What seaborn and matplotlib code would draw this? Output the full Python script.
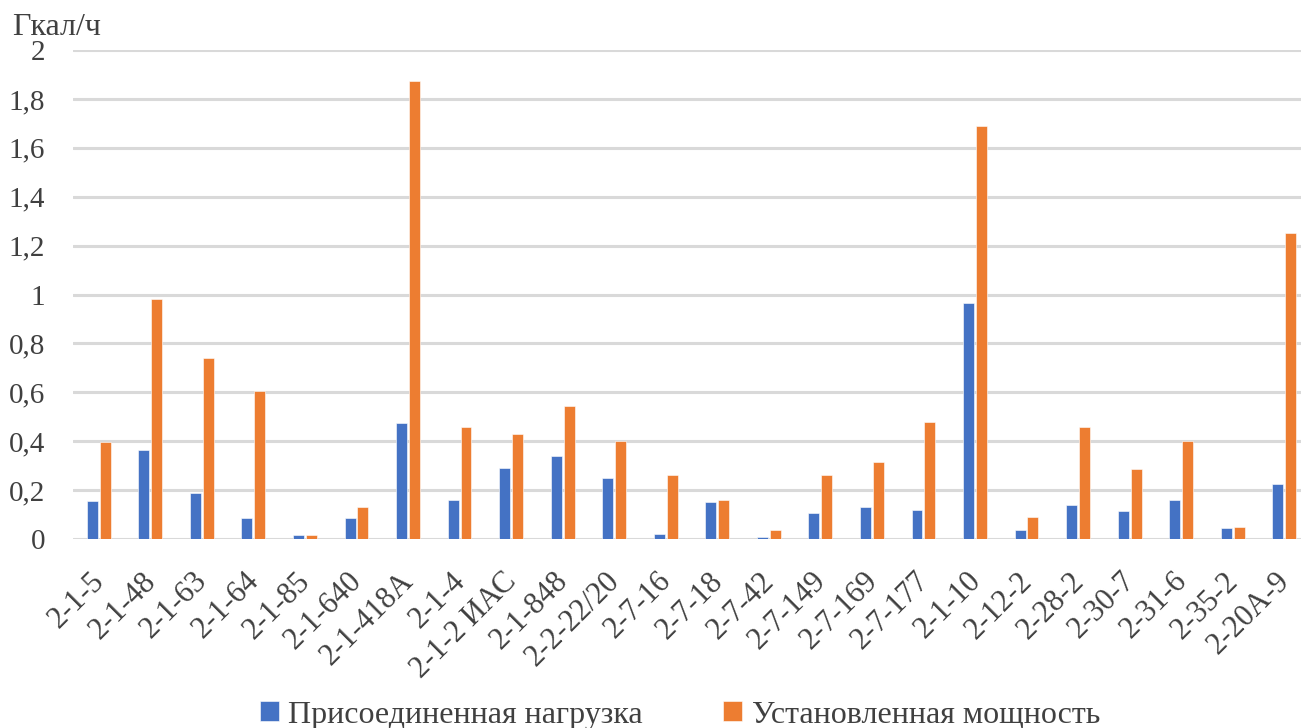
import matplotlib
matplotlib.use("Agg")
import matplotlib.pyplot as plt
from matplotlib.transforms import ScaledTranslation
import seaborn as sns
import pandas as pd

categories = ["2-1-5", "2-1-48", "2-1-63", "2-1-64", "2-1-85", "2-1-640", "2-1-418А",
              "2-1-4", "2-1-2 ИАС", "2-1-848", "2-2-22/20", "2-7-16", "2-7-18", "2-7-42",
              "2-7-149", "2-7-169", "2-7-177", "2-1-10", "2-12-2", "2-28-2", "2-30-7",
              "2-31-6", "2-35-2", "2-20А-9"]
connected = [0.155, 0.364, 0.19, 0.085, 0.015, 0.085, 0.474, 0.16, 0.29, 0.34, 0.25, 0.02,
             0.15, 0.008, 0.108, 0.13, 0.12, 0.965, 0.035, 0.138, 0.113, 0.16, 0.046, 0.225]
installed = [0.395, 0.98, 0.74, 0.605, 0.015, 0.13, 1.875, 0.46, 0.43, 0.545, 0.40, 0.26,
             0.16, 0.035, 0.26, 0.315, 0.48, 1.69, 0.09, 0.46, 0.285, 0.40, 0.05, 1.25]
series_names = ["Присоединенная нагрузка", "Установленная мощность"]
yticks = [0, 0.2, 0.4, 0.6, 0.8, 1, 1.2, 1.4, 1.6, 1.8, 2]

df = pd.DataFrame({
    "cat": categories * 2,
    "val": connected + installed,
    "series": [series_names[0]] * len(categories) + [series_names[1]] * len(categories),
})

sns.set_theme(style="white")
plt.rcParams["font.family"] = ["Liberation Serif", "DejaVu Serif"]

W, H = 1301, 728
ax_left, ax_width = 73 / W, 1237 / W
fig = plt.figure(figsize=(13.01, 7.28), dpi=100)
ax = fig.add_axes([ax_left, 1 - 539 / H, ax_width, 489 / H])

sns.barplot(data=df, x="cat", y="val", hue="series", order=categories,
            hue_order=series_names, palette=["#4472C4", "#ED7D31"], saturation=1,
            width=0.5, gap=0.15, ax=ax, errorbar=None, legend=True,
            edgecolor="white", linewidth=0.4)

ax.set_ylim(0, 2)
ax.set_xlim(-0.5, 23.5)
ax.set_yticks(yticks)
ax.set_yticklabels([("%g" % t).replace(".", ",") for t in yticks])
ax.yaxis.grid(True, color="#D9D9D9", linewidth=2.2)
ax.set_axisbelow(True)
for s in ax.spines.values():
    s.set_visible(False)
ax.tick_params(axis="y", length=0, colors="#404040", labelsize=21, pad=20)
ax.tick_params(axis="x", length=0, colors="#404040", labelsize=22, pad=4)
offset = ScaledTranslation(-0.09, -0.22, fig.dpi_scale_trans)
for lab in ax.get_xticklabels():
    lab.set_rotation(45)
    lab.set_ha("right")
    lab.set_rotation_mode("anchor")
    lab.set_transform(lab.get_transform() + offset)
ax.set_xlabel("")
ax.set_ylabel("")

fig.text(0.009, 0.962, "Гкал/ч", fontsize=23, color="#404040", va="center", ha="left")

leg_x = (0.5225 * W - 73) / 1237
ax.legend(loc="center", bbox_to_anchor=(leg_x, -0.36),
          ncol=2, frameon=False, fontsize=23, handlelength=0.6, handleheight=0.6,
          columnspacing=2.5, handletextpad=0.3, labelcolor="#404040")

fig.savefig("out.png", dpi=100)
